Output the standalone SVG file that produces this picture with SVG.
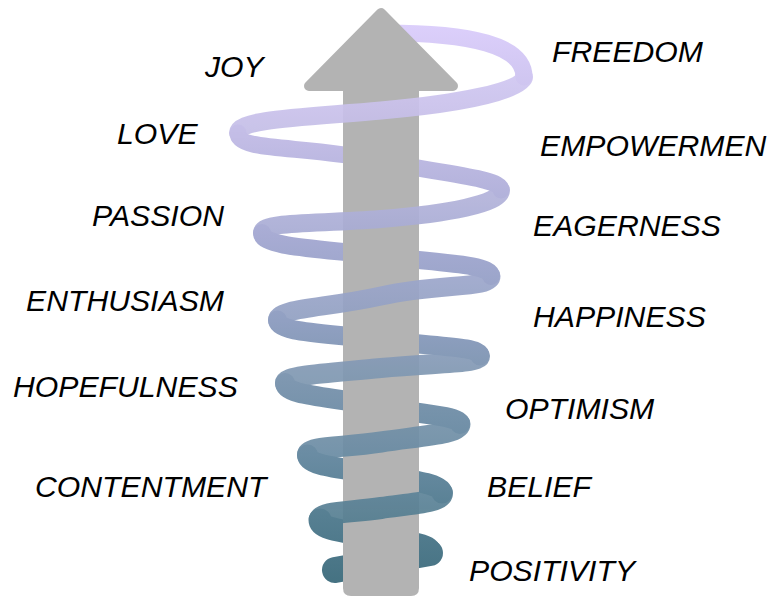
<svg xmlns="http://www.w3.org/2000/svg" width="768" height="597" viewBox="0 0 768 597">
<defs>
<linearGradient id="band" gradientUnits="userSpaceOnUse" x1="0" y1="25" x2="0" y2="583">
<stop offset="0" stop-color="#dccffb"/>
<stop offset="0.2" stop-color="#c3bde6"/>
<stop offset="0.38" stop-color="#a7abd3"/>
<stop offset="0.53" stop-color="#91a0c2"/>
<stop offset="0.64" stop-color="#7e97b0"/>
<stop offset="0.77" stop-color="#6a8ca3"/>
<stop offset="0.88" stop-color="#567f92"/>
<stop offset="1" stop-color="#457282"/>
</linearGradient>
<style>
.sw{fill:none;stroke:url(#band);stroke-linecap:round;stroke-linejoin:round}
.front{opacity:0.92}
.lbl{font-family:"Liberation Sans",Arial,Helvetica,sans-serif;font-style:italic;font-size:30.2px;fill:#000}
.arrow{fill:#b3b3b3}
</style>
</defs>
<rect width="768" height="597" fill="#fff"/>
<g id="spiral-back">
<path class="sw" stroke-width="17" d="M385,33 C470,33 524,45 524,77"/>
<path class="sw" stroke-width="17" d="M238,133 C238,152 302.9,144.6 381,161 C447,174.9 501,178 501,190"/>
<path class="sw" stroke-width="18" d="M262,233 C262,247 316.1,248.2 381,256 C441,263.2 491,264 491,276"/>
<path class="sw" stroke-width="19" d="M277.5,320 C277.5,333 324.3,332.6 381,340 C434.9,347 480,346 480,356"/>
<path class="sw" stroke-width="20" d="M285,383 C285,396 328.7,396 381,406.5 C423.9,415.1 460,416 460,424"/>
<path class="sw" stroke-width="21" d="M307.5,455 C307.5,466 340.8,467.8 381,475 C414,480.9 442,484 442,493"/>
<path class="sw" stroke-width="23" d="M320,520 C320,530 347.4,531.3 381,538 C408,543.4 430,544 430,553"/>
<path class="sw" stroke-width="26" d="M430,553 L335,570"/>
</g>
<g id="arrow">
<path class="arrow" stroke="#b3b3b3" stroke-width="10" stroke-linejoin="round" d="M381,13 L453,86 L309,86 Z"/>
<path class="arrow" d="M343,86 V588 Q343,596 351,596 H411 Q419,596 419,588 V86 Z"/>
</g>
<g id="spiral-front" class="front">
<path class="sw" stroke-width="18" d="M524,77 C524,91 458.6,103.5 381,110.5 C302.9,117.5 238,119 238,133"/>
<path class="sw" stroke-width="18" d="M501,190 C501,204 447,213.7 381,219 C316.1,224.2 262,221 262,233"/>
<path class="sw" stroke-width="19" d="M491,276 C491,289 441,282.8 381,296 C324.3,308.5 277.5,308 277.5,320"/>
<path class="sw" stroke-width="20" d="M480,356 C480,364 434.9,362.6 381,368 C328.7,373.2 285,375 285,383"/>
<path class="sw" stroke-width="21" d="M460,424 C460,434 423.9,435.6 381,442 C340.8,448 307.5,446 307.5,455"/>
<path class="sw" stroke-width="22" d="M442,493 C442,502 414,503.4 381,508 C347.4,512.7 320,512 320,520"/>
</g>
<g id="labels">
<g id="joy"><text class="lbl" x="205" y="77">JOY</text></g>
<g id="freedom"><text class="lbl" x="552" y="62">FREEDOM</text></g>
<g id="love"><text class="lbl" x="117" y="144">LOVE</text></g>
<g id="empowerment"><text class="lbl" x="540" y="156">EMPOWERMEN</text></g>
<g id="passion"><text class="lbl" x="92" y="226">PASSION</text></g>
<g id="eagerness"><text class="lbl" x="533" y="236">EAGERNESS</text></g>
<g id="enthusiasm"><text class="lbl" x="26" y="311">ENTHUSIASM</text></g>
<g id="happiness"><text class="lbl" x="533" y="327">HAPPINESS</text></g>
<g id="hopefulness"><text class="lbl" x="13" y="397">HOPEFULNESS</text></g>
<g id="optimism"><text class="lbl" x="505" y="419">OPTIMISM</text></g>
<g id="contentment"><text class="lbl" x="35" y="497">CONTENTMENT</text></g>
<g id="belief"><text class="lbl" x="487" y="497">BELIEF</text></g>
<g id="positivity"><text class="lbl" x="469" y="581">POSITIVITY</text></g>
</g>
</svg>
